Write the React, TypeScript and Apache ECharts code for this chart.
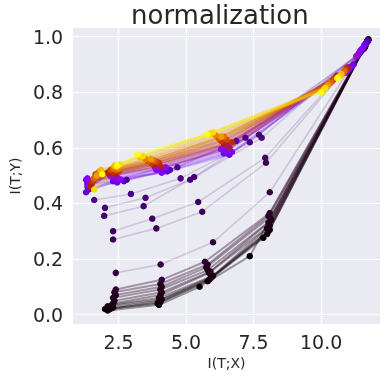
import React, { useEffect, useRef } from "react";
import * as echarts from "echarts";

// colour position of each epoch (0 = first epoch, 1 = last), gnuplot colormap
const epochT = [
  0, 0.002, 0.004, 0.006, 0.008, 0.01, 0.012, 0.014, 0.016, 0.018, 0.02, 0.03,
  0.04, 0.05, 0.06, 0.07, 0.08, 0.09, 0.1, 0.12,
  0.16, 0.19, 0.22, 0.25, 0.28, 0.31, 0.35,
  0.4, 0.45, 0.5, 0.55, 0.6, 0.65, 0.7, 0.75, 0.8, 0.85, 0.9, 0.95, 1.0,
];

// I(T;X) and I(T;Y) of each layer, one value per epoch
const ixL1 = [
  11.75, 11.72, 11.74, 11.7, 11.73, 11.71, 11.75, 11.72, 11.7, 11.74, 11.73, 11.71,
  11.72, 11.7, 11.73, 11.71, 11.74, 11.7, 11.72, 11.68,
  11.65, 11.6, 11.55, 11.5, 11.45, 11.4, 11.3,
  11.0, 10.95, 10.9, 10.95, 10.85, 10.9, 10.8, 10.85, 10.75, 10.7, 10.75, 10.65, 10.6,
];
const iyL1 = [
  0.99, 0.985, 0.988, 0.983, 0.987, 0.984, 0.99, 0.986, 0.982, 0.988, 0.985, 0.983,
  0.985, 0.982, 0.986, 0.983, 0.987, 0.98, 0.984, 0.978,
  0.975, 0.97, 0.96, 0.955, 0.95, 0.94, 0.93,
  0.89, 0.885, 0.88, 0.885, 0.875, 0.88, 0.87, 0.875, 0.865, 0.86, 0.865, 0.855, 0.85,
];
const ixL2 = [
  11.62, 11.6, 11.63, 11.58, 11.61, 11.6, 11.64, 11.59, 11.57, 11.62, 11.6, 11.58,
  11.5, 11.45, 11.48, 11.4, 11.44, 11.38, 11.42, 11.35,
  11.2, 11.15, 11.1, 11.05, 11.0, 10.95, 10.9,
  10.6, 10.5, 10.55, 10.45, 10.4, 10.5, 10.3, 10.35, 10.2, 10.25, 10.1, 10.15, 10.0,
];
const iyL2 = [
  0.965, 0.962, 0.966, 0.958, 0.963, 0.96, 0.968, 0.96, 0.956, 0.964, 0.961, 0.958,
  0.95, 0.945, 0.948, 0.94, 0.944, 0.935, 0.94, 0.93,
  0.9, 0.895, 0.89, 0.885, 0.88, 0.875, 0.87,
  0.86, 0.85, 0.855, 0.845, 0.84, 0.85, 0.83, 0.835, 0.82, 0.825, 0.81, 0.815, 0.8,
];
const ixL3 = [
  7.36, 7.86, 8.0, 8.05, 8.1, 8.0, 8.1, 8.05, 8.15, 8.1, 8.05, 8.1,
  8.1, 7.96, 7.93, 7.7, 7.8, 7.36, 7.2, 6.86,
  6.6, 6.4, 6.7, 6.5, 6.3, 6.6, 6.4,
  6.5, 6.6, 6.4, 6.7, 6.3, 6.5, 6.2, 6.4, 6.1, 6.3, 5.9, 6.0, 5.8,
];
const iyL3 = [
  0.21, 0.276, 0.29, 0.3, 0.305, 0.31, 0.32, 0.33, 0.34, 0.35, 0.355, 0.365,
  0.44, 0.546, 0.564, 0.647, 0.636, 0.62, 0.636, 0.625,
  0.575, 0.58, 0.585, 0.59, 0.595, 0.6, 0.605,
  0.61, 0.6, 0.615, 0.62, 0.625, 0.63, 0.635, 0.64, 0.645, 0.64, 0.65, 0.655, 0.648,
];
const ixL4 = [
  5.5, 5.8, 5.85, 5.9, 5.95, 6.0, 5.85, 5.9, 5.8, 5.75, 5.8, 5.7,
  6.0, 5.6, 5.45, 5.3, 5.15, 4.8, 4.68, 4.4,
  4.3, 4.2, 4.1, 4.0, 3.9, 4.25, 3.85,
  3.9, 4.1, 3.8, 4.0, 3.7, 3.9, 3.6, 3.8, 3.5, 3.7, 3.3, 3.4, 3.2,
];
const iyL4 = [
  0.1, 0.12, 0.125, 0.13, 0.135, 0.14, 0.15, 0.155, 0.16, 0.17, 0.18, 0.19,
  0.26, 0.37, 0.405, 0.495, 0.485, 0.49, 0.53, 0.52,
  0.515, 0.52, 0.51, 0.525, 0.52, 0.53, 0.53,
  0.535, 0.53, 0.54, 0.545, 0.545, 0.55, 0.55, 0.555, 0.56, 0.56, 0.565, 0.57, 0.575,
];
const ixL5 = [
  4.0, 3.95, 4.05, 4.0, 4.1, 4.0, 4.05, 4.1, 4.05, 4.1, 4.05, 4.1,
  4.06, 3.9, 3.75, 3.43, 3.5, 2.96, 2.8, 2.7,
  2.3, 2.45, 2.4, 2.6, 2.3, 2.5, 2.2,
  2.2, 2.4, 2.1, 2.3, 2.5, 2.2, 2.4, 2.3, 2.5, 2.4, 2.35, 2.55, 2.45,
];
const iyL5 = [
  0.035, 0.04, 0.045, 0.05, 0.055, 0.06, 0.07, 0.08, 0.09, 0.1, 0.11, 0.125,
  0.18, 0.31, 0.345, 0.39, 0.42, 0.434, 0.485, 0.48,
  0.48, 0.475, 0.49, 0.485, 0.495, 0.49, 0.5,
  0.5, 0.505, 0.51, 0.51, 0.515, 0.52, 0.52, 0.525, 0.525, 0.53, 0.535, 0.54, 0.535,
];
const ixL6 = [
  2.1, 2.0, 2.2, 2.3, 2.1, 2.25, 2.3, 2.35, 2.3, 2.4, 2.35, 2.4,
  2.4, 2.3, 2.3, 1.97, 2.0, 1.6, 1.4, 1.35,
  1.3, 1.35, 1.3, 1.4, 1.35, 1.45, 1.5,
  1.5, 1.6, 1.45, 1.7, 1.55, 1.65, 1.75, 1.6, 1.8, 1.7, 1.85, 1.6, 1.9,
];
const iyL6 = [
  0.015, 0.02, 0.02, 0.025, 0.03, 0.035, 0.04, 0.05, 0.06, 0.07, 0.08, 0.09,
  0.15, 0.27, 0.3, 0.355, 0.384, 0.412, 0.45, 0.47,
  0.44, 0.46, 0.485, 0.47, 0.49, 0.48, 0.475,
  0.47, 0.49, 0.46, 0.5, 0.48, 0.505, 0.51, 0.49, 0.515, 0.5, 0.52, 0.45, 0.505,
];

const xTicks = [2.5, 5.0, 7.5, 10.0];
const yTicks = [0.0, 0.2, 0.4, 0.6, 0.8, 1.0];

const layersX = [ixL1, ixL2, ixL3, ixL4, ixL5, ixL6];
const layersY = [iyL1, iyL2, iyL3, iyL4, iyL5, iyL6];

function gnuplot(t: number): string {
  const r = Math.sqrt(t);
  const g = t * t * t;
  const b = Math.min(1, Math.max(0, Math.sin(2 * Math.PI * t)));
  const c = (v: number) => Math.round(v * 255);
  return `rgb(${c(r)},${c(g)},${c(b)})`;
}

function lineLook(t: number) {
  if (t <= 0.03) return { width: 2, opacity: 0.38 };
  if (t < 0.15) return { width: 1.6, opacity: 0.16 };
  if (t < 0.4) return { width: 2.2, opacity: 0.22 };
  return { width: 3, opacity: 0.3 };
}

const FONT = "DejaVu Sans";
const INK = "#262626";

export default function App() {
  const ref = useRef<HTMLDivElement>(null);
  useEffect(() => {
    document.body.style.margin = "0";
    if (!ref.current) return;
    const chart = echarts.init(ref.current, null, { renderer: "svg" });
    const series: any[] = epochT.map((t, e) => {
      const col = gnuplot(t);
      const look = lineLook(t);
      return {
        type: "line",
        data: layersX.map((lx, l) => [lx[e], layersY[l][e]]),
        symbol: "circle",
        symbolSize: 6.5,
        showSymbol: true,
        silent: true,
        lineStyle: { color: col, width: look.width, opacity: look.opacity },
        itemStyle: { color: col, opacity: 1, borderWidth: 0 },
        emphasis: { disabled: true },
        z: 3,
      };
    });
    chart.setOption({
      animation: false,
      title: {
        text: "normalization",
        left: 131,
        top: 2,
        padding: 0,
        textStyle: { fontSize: 26, fontWeight: "normal", color: INK, fontFamily: FONT },
      },
      grid: {
        left: 62,
        right: 7,
        top: 28,
        bottom: 52,
        show: true,
        backgroundColor: "#EAEAF2",
        borderWidth: 0,
      },
      xAxis: {
        type: "value",
        min: 0.82,
        max: 12.18,
        name: "I(T;X)",
        nameLocation: "middle",
        nameGap: 32,
        nameTextStyle: { fontSize: 14, color: INK, fontFamily: FONT },
        axisLine: { show: false },
        axisTick: { show: false, customValues: xTicks },
        axisLabel: {
          customValues: xTicks,
          fontSize: 19,
          color: INK,
          fontFamily: FONT,
          margin: 8,
          formatter: (v: number) => v.toFixed(1),
        },
        splitLine: { show: true, lineStyle: { color: "#ffffff", width: 1.2 } },
      },
      yAxis: {
        type: "value",
        min: -0.034,
        max: 1.031,
        name: "I(T;Y)",
        nameLocation: "middle",
        nameGap: 48,
        nameTextStyle: { fontSize: 14, color: INK, fontFamily: FONT },
        axisLine: { show: false },
        axisTick: { show: false, customValues: yTicks },
        axisLabel: {
          customValues: yTicks,
          fontSize: 19,
          color: INK,
          fontFamily: FONT,
          margin: 10,
          formatter: (v: number) => v.toFixed(1),
        },
        splitLine: { show: true, lineStyle: { color: "#ffffff", width: 1.2 } },
      },
      series,
    });
    return () => chart.dispose();
  }, []);
  return (
    <div
      ref={ref}
      style={{ position: "fixed", left: 0, top: 0, width: 387, height: 376 }}
    />
  );
}
